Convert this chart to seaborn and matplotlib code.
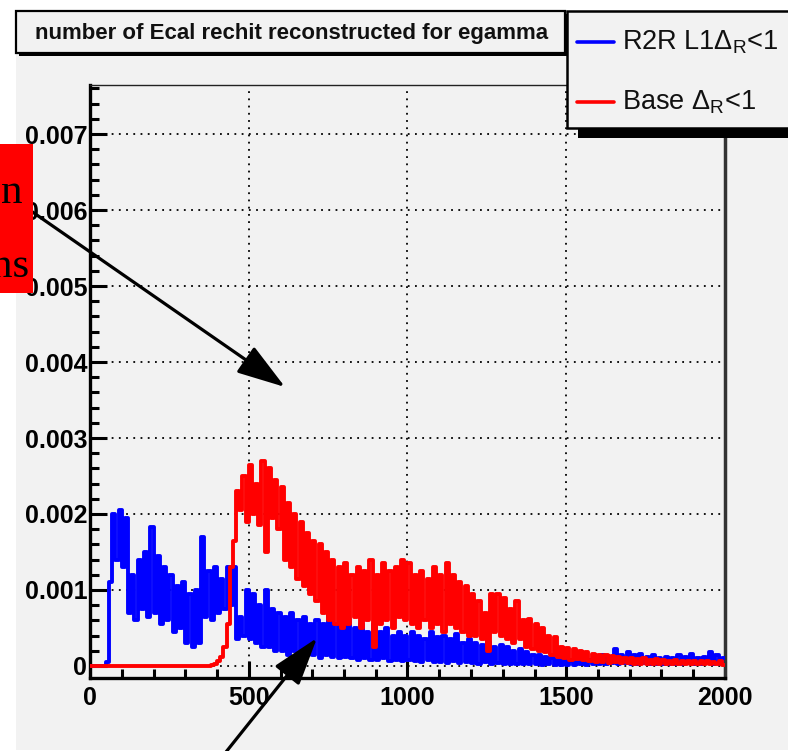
import numpy as np
import pandas as pd
import matplotlib
matplotlib.use("Agg")
import matplotlib.pyplot as plt
import matplotlib.transforms as mtransforms
from matplotlib.patches import Rectangle, FancyArrowPatch, ArrowStyle
from matplotlib.lines import Line2D
from matplotlib.ticker import MultipleLocator
import seaborn as sns

# ---------------- data (bin contents in units of 1e-5, 10-wide bins 0..2000) -------------
bin_width = 10
x_min, x_max = 0, 2000

r2r_l1 = [
    0, 0, 0, 0, 0, 5, 110, 200, 140, 205,
    130, 195, 70, 120, 60, 140, 75, 150, 65, 183,
    70, 145, 55, 130, 60, 120, 45, 105, 50, 110,
    30, 95, 25, 100, 30, 170, 65, 125, 60, 130,
    70, 115, 75, 130, 80, 130, 35, 65, 40, 100,
    35, 95, 30, 80, 25, 100, 25, 75, 20, 70,
    20, 65, 15, 70, 20, 60, 15, 65, 15, 55,
    15, 60, 10, 55, 15, 70, 12, 55, 10, 50,
    12, 60, 10, 50, 8, 55, 10, 45, 8, 55,
    8, 45, 10, 50, 6, 40, 8, 45, 6, 40,
    8, 45, 6, 40, 5, 35, 8, 45, 5, 38,
    5, 40, 4, 35, 6, 42, 4, 30, 5, 35,
    4, 30, 3, 28, 5, 32, 3, 25, 4, 28,
    3, 25, 2, 20, 3, 22, 2, 18, 2, 15,
    2, 14, 1, 12, 2, 10, 1, 8, 1, 8,
    1, 6, 1, 7, 2, 5, 1, 8, 2, 10,
    3, 14, 2, 12, 4, 22, 3, 15, 4, 18,
    3, 14, 2, 16, 4, 12, 3, 15, 2, 10,
    3, 12, 2, 10, 3, 14, 2, 12, 4, 16,
    3, 10, 2, 12, 4, 18, 3, 14, 2, 10,
]

base = [
    0, 0, 0, 0, 0, 0, 0, 0, 0, 0,
    0, 0, 0, 0, 0, 0, 0, 0, 0, 0,
    0, 0, 0, 0, 0, 0, 0, 0, 0, 0,
    0, 0, 0, 0, 0, 0, 0, 0, 1, 3,
    6, 12, 25, 55, 130, 165, 230, 205, 250, 190,
    265, 200, 240, 185, 270, 150, 260, 195, 245, 180,
    235, 140, 215, 130, 200, 115, 190, 105, 175, 95,
    165, 85, 160, 70, 150, 60, 140, 55, 130, 50,
    135, 55, 120, 65, 130, 50, 125, 60, 140, 25,
    120, 55, 135, 60, 125, 50, 130, 65, 140, 60,
    135, 55, 120, 50, 125, 60, 115, 50, 130, 55,
    120, 45, 135, 55, 120, 50, 110, 45, 105, 40,
    95, 40, 85, 35, 70, 20, 95, 45, 95, 40,
    90, 35, 75, 30, 85, 35, 60, 25, 62, 22,
    55, 20, 50, 18, 40, 15, 38, 12, 25, 10,
    24, 8, 22, 9, 20, 8, 18, 6, 16, 5,
    15, 5, 14, 4, 13, 5, 12, 4, 11, 4,
    10, 3, 9, 3, 10, 2, 8, 3, 9, 2,
    8, 2, 7, 2, 8, 2, 7, 2, 6, 2,
    7, 2, 6, 2, 7, 2, 5, 2, 6, 1,
]

series_names = ["R2R L1$\\Delta_{\\mathrm{R}}$<1", "Base $\\Delta_{\\mathrm{R}}$<1"]
series_colors = ["#0000ff", "#ff0000"]
title_text = "number of Ecal rechit reconstructed for egamma"
x_ticks = [0, 500, 1000, 1500, 2000]
x_tick_labels = ["0", "500", "1000", "1500", "2000"]
y_ticks = [0, 0.001, 0.002, 0.003, 0.004, 0.005, 0.006, 0.007]
y_tick_labels = ["0", "0.001", "0.002", "0.003", "0.004", "0.005", "0.006", "0.007"]
side_text = ["n", "ns"]

# ---------------- styling ----------------
sns.set_theme(style="ticks")
plt.rcParams['font.family'] = ['Liberation Sans', 'DejaVu Sans']
plt.rcParams['mathtext.fontset'] = 'custom'
plt.rcParams['mathtext.rm'] = 'Liberation Sans'
plt.rcParams['mathtext.it'] = 'Liberation Sans:italic'
plt.rcParams['mathtext.bf'] = 'Liberation Sans:bold'

W, H = 788, 751
fig = plt.figure(figsize=(W / 100, H / 100), dpi=100)
fig.patch.set_facecolor("white")
px = mtransforms.Affine2D().scale(1 / W, -1 / H).translate(0, 1) + fig.transFigure

BG = "#f2f2f2"
fig.add_artist(Rectangle((16, 11), W - 16, 739, transform=px, facecolor=BG,
                         edgecolor="none", zorder=-10))

ax = fig.add_axes([90 / W, 1 - 678 / H, 635 / W, 593 / H])
ax.set_facecolor(BG)

centers = np.arange(x_min, x_max, bin_width) + bin_width / 2
df = pd.DataFrame({
    "x": np.concatenate([centers, centers]),
    "w": np.concatenate([np.array(r2r_l1) * 1e-5, np.array(base) * 1e-5]),
    "series": [series_names[0]] * len(centers) + [series_names[1]] * len(centers),
})
for name, col, z in zip(series_names, series_colors, [3, 4]):
    sub = df[df["series"] == name]
    sns.histplot(data=sub, x="x", weights="w", binwidth=bin_width,
                 binrange=(x_min, x_max), element="step", fill=False,
                 color=col, linewidth=2.8, ax=ax, zorder=z)

ax.set_xlim(x_min, x_max)
ax.set_ylim(-0.000158, 0.007645)
ax.set_xlabel("")
ax.set_ylabel("")
ax.set_xticks(x_ticks)
ax.set_xticklabels(x_tick_labels, fontsize=18, fontweight="bold")
ax.set_yticks(y_ticks)
ax.set_yticklabels(y_tick_labels, fontsize=18, fontweight="bold")
ax.xaxis.set_minor_locator(MultipleLocator(100))
ax.yaxis.set_minor_locator(MultipleLocator(0.0002))
ax.tick_params(axis="both", which="major", direction="in", length=12, width=2.2,
               color="black", labelcolor="black")
ax.tick_params(axis="both", which="minor", direction="in", length=6.5, width=2.2,
               color="black")
ax.tick_params(axis="y", which="major", pad=2)
ax.tick_params(axis="x", which="major", pad=6)
ax.tick_params(top=False, right=False, which="both")
ax.grid(True, which="major", color="black", linestyle=(0, (1, 3)), linewidth=1.3)
ax.set_axisbelow(True)
for s in ["left", "bottom"]:
    ax.spines[s].set_linewidth(2.4)
    ax.spines[s].set_color("black")
ax.spines["top"].set_linewidth(1.0)
ax.spines["top"].set_color("#222222")
ax.spines["right"].set_linewidth(2.5)
ax.spines["right"].set_color("#333333")
ax.spines["right"].set_visible(True)
ax.spines["top"].set_visible(True)

# ---------------- title box ----------------
fig.add_artist(Rectangle((19, 14), 549, 42, transform=px, facecolor="black",
                         edgecolor="none", zorder=5))
fig.add_artist(Rectangle((16, 11), 549, 42, transform=px, facecolor=BG,
                         edgecolor="black", linewidth=1.6, zorder=5.1))
fig.text(292 / W, 1 - 33 / H, title_text, ha="center", va="center", fontsize=16,
         fontweight="bold", color="#111111", zorder=5.2)

# ---------------- legend box ----------------
fig.add_artist(Rectangle((578, 21), 240, 117, transform=px, facecolor="black",
                         edgecolor="none", zorder=5))
fig.add_artist(Rectangle((567, 11), 250, 117, transform=px, facecolor=BG,
                         edgecolor="black", linewidth=1.8, zorder=5.1))
for name, col, ly, by in zip(series_names, series_colors, [42, 102], [50, 110]):
    fig.add_artist(Line2D([577, 614], [ly, ly], transform=px, color=col,
                          linewidth=2.6, zorder=5.2))
    fig.text(622 / W, 1 - by / H, name, ha="left", va="baseline", fontsize=19.5,
             color="#111111", zorder=5.2)

# ---------------- overlay annotations ----------------
style = ArrowStyle("-|>", head_length=30, head_width=9.7)
fig.add_artist(FancyArrowPatch((8, 195), (285, 387), transform=px, arrowstyle=style,
                               mutation_scale=1, linewidth=2.3, color="black",
                               shrinkA=0, shrinkB=0, zorder=6))
fig.add_artist(FancyArrowPatch((222, 757), (317, 638), transform=px, arrowstyle=style,
                               mutation_scale=1, linewidth=2.3, color="black",
                               shrinkA=0, shrinkB=0, zorder=6))
fig.add_artist(Rectangle((-5, 144), 38, 149, transform=px, facecolor="#ff0000",
                         edgecolor="none", zorder=7))
fig.text(22 / W, 1 - 203 / H, side_text[0], ha="right", va="baseline", fontsize=31,
         family=["Liberation Serif"], color="black", zorder=8)
fig.text(29 / W, 1 - 277 / H, side_text[1], ha="right", va="baseline", fontsize=31,
         family=["Liberation Serif"], color="black", zorder=8)

fig.savefig("out.png", dpi=100, facecolor="white")
